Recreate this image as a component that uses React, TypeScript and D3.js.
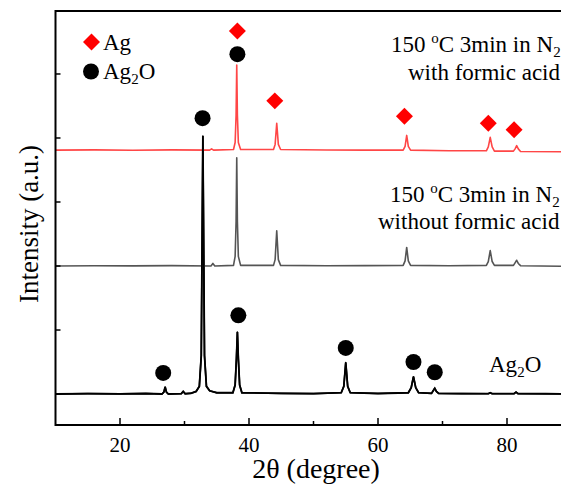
import React, { useEffect, useRef } from "react";
import * as d3 from "d3";

// 2-theta positions and intensities (a.u.), relative to each trace's baseline
const ag2oPattern: [number, number][] = [
  [10, 0], [15, 0.006], [20, 0.003], [24, 0.008], [26.5, 0], [26.8, 0.03], [27.0, 0.11], [27.2, 0.03], [27.5, 0],
  [29.5, 0.005], [29.8, 0.04], [30.1, 0.005], [31.0, 0.012], [31.8, 0.04], [32.3, 0.12], [32.6, 0.6], [32.85, 4.03],
  [33.1, 0.6], [33.4, 0.12], [33.9, 0.05], [35, 0.02], [37.5, 0.02], [37.85, 0.14], [38.05, 0.55], [38.2, 0.97],
  [38.35, 0.55], [38.55, 0.14], [38.9, 0.02], [45, 0.01], [50, 0.006], [54.3, 0.02], [54.7, 0.12], [55.0, 0.49],
  [55.3, 0.12], [55.7, 0.02], [60, 0.008], [64.7, 0.02], [65.15, 0.1], [65.5, 0.27], [65.85, 0.1], [66.3, 0.02],
  [68.3, 0.01], [68.55, 0.05], [68.8, 0.09], [69.05, 0.04], [69.4, 0.01], [73, 0.006], [77.1, 0.005], [77.4, 0.02],
  [77.7, 0.005], [81.1, 0.005], [81.4, 0.03], [81.7, 0.005], [86, 0.004], [90, 0],
];

const noAcidPattern: [number, number][] = [
  [10, 0], [16, 0.005], [22, 0.002], [28, 0.006], [34.1, 0], [34.4, 0.04], [34.7, 0], [37.6, 0.01], [37.85, 0.15],
  [38.0, 0.7], [38.1, 1.69], [38.2, 0.7], [38.35, 0.15], [38.7, 0.01], [43.8, 0.01], [44.05, 0.1], [44.3, 0.55],
  [44.55, 0.1], [44.9, 0.01], [52, 0.004], [58, 0.006], [63.9, 0.01], [64.2, 0.08], [64.45, 0.29], [64.7, 0.08],
  [65.05, 0.01], [71, 0.004], [76.8, 0.01], [77.1, 0.07], [77.4, 0.24], [77.7, 0.07], [78.05, 0.01], [81.0, 0.01],
  [81.25, 0.05], [81.5, 0.09], [81.75, 0.04], [82.1, 0.005], [90, -0.005],
];

const formicPattern: [number, number][] = [
  [10, 0], [16, 0.004], [22, -0.002], [28, 0.005], [33.9, 0], [34.2, 0.02], [34.5, 0], [37.6, 0.01], [37.85, 0.12],
  [38.0, 0.55], [38.1, 1.33], [38.2, 0.55], [38.35, 0.12], [38.7, 0.01], [43.8, 0.01], [44.05, 0.09], [44.3, 0.42],
  [44.55, 0.09], [44.9, 0.01], [52, 0.002], [58, 0.0], [63.9, 0.0], [64.2, 0.06], [64.45, 0.23], [64.7, 0.06],
  [65.05, 0.0], [71, -0.01], [76.8, -0.01], [77.1, 0.05], [77.4, 0.2], [77.7, 0.05], [78.05, -0.015], [81.0, -0.015],
  [81.25, 0.02], [81.5, 0.07], [81.75, 0.02], [82.1, -0.02], [90, -0.025],
];

const patterns = [ag2oPattern, noAcidPattern, formicPattern];
const offsets = [0, 2.0, 3.81];
const colors = ["#000000", "#555555", "#ff4646"];

// phase markers [2theta, level]
const ag2oMarks: [number, number][] = [
  [26.7, 0.33], [32.8, 4.31], [38.2, 5.31], [38.35, 1.23], [55.0, 0.72], [65.5, 0.5], [68.8, 0.34],
];
const agMarks: [number, number][] = [
  [38.2, 5.67], [44.0, 4.58], [64.1, 4.34], [77.1, 4.23], [81.1, 4.13],
];

const xMajor = [20, 40, 60, 80];
const xMinor = [30, 50, 70];
const yTicks = [0, 1, 2, 3, 4, 5];

export default function App() {
  const ref = useRef<SVGSVGElement>(null);

  useEffect(() => {
    const svg = d3.select(ref.current);
    svg.selectAll("*").remove();

    const left = 55.5, right = 571.5, top = 11, bottom = 425;
    const x = d3.scaleLinear().domain([10, 90]).range([left, right]);
    const y = d3.scaleLinear().domain([-0.484, 5.984]).range([bottom, top]);
    const font = "Liberation Serif, Times New Roman, Times, serif";

    // traces
    const line = d3.line<[number, number]>().x(d => x(d[0])).y(d => y(d[1]));
    patterns.forEach((p, i) => {
      svg.append("path")
        .attr("d", line(p.map(d => [d[0], d[1] + offsets[i]] as [number, number])))
        .attr("fill", "none")
        .attr("stroke", colors[i])
        .attr("stroke-width", 1.6)
        .attr("stroke-linejoin", "round");
    });
    // black trace on top of the others
    svg.append("path")
      .attr("d", line(ag2oPattern))
      .attr("fill", "none").attr("stroke", "#000").attr("stroke-width", 1.8);

    // frame
    svg.append("rect")
      .attr("x", left).attr("y", top).attr("width", right - left).attr("height", bottom - top)
      .attr("fill", "none").attr("stroke", "#000").attr("stroke-width", 2);

    // x ticks (inward)
    svg.selectAll(".xmaj").data(xMajor).join("line")
      .attr("x1", d => x(d)).attr("x2", d => x(d)).attr("y1", bottom).attr("y2", bottom - 7)
      .attr("stroke", "#000").attr("stroke-width", 1.5);
    svg.selectAll(".xmin").data(xMinor).join("line")
      .attr("x1", d => x(d)).attr("x2", d => x(d)).attr("y1", bottom).attr("y2", bottom - 4)
      .attr("stroke", "#000").attr("stroke-width", 1.5);
    svg.selectAll(".xlab").data(xMajor).join("text")
      .attr("x", d => x(d)).attr("y", 452).attr("text-anchor", "middle")
      .attr("font-family", font).attr("font-size", 21).text(d => d);

    // y ticks (inward)
    svg.selectAll(".ytick").data(yTicks).join("line")
      .attr("x1", left).attr("x2", left + 5).attr("y1", d => y(d)).attr("y2", d => y(d))
      .attr("stroke", "#000").attr("stroke-width", 1.5);

    // axis titles
    svg.append("text").attr("x", 316).attr("y", 478).attr("text-anchor", "middle")
      .attr("font-family", font).attr("font-size", 28).text("2θ (degree)");
    svg.append("text").attr("transform", "translate(38, 224) rotate(-90)").attr("text-anchor", "middle")
      .attr("font-family", font).attr("font-size", 27).text("Intensity (a.u.)");

    // markers
    const circle = d3.symbol().type(d3.symbolCircle).size(201);
    const square = d3.symbol().type(d3.symbolSquare).size(144);
    svg.selectAll(".ag2o").data(ag2oMarks).join("path")
      .attr("d", circle())
      .attr("transform", d => `translate(${x(d[0])}, ${y(d[1])})`)
      .attr("fill", "#000");
    svg.selectAll(".ag").data(agMarks).join("path")
      .attr("d", square())
      .attr("transform", d => `translate(${x(d[0])}, ${y(d[1])}) rotate(45)`)
      .attr("fill", "#ff0000");

    // legend
    svg.append("path").attr("d", square()).attr("transform", "translate(91.5, 42) rotate(45)").attr("fill", "#ff0000");
    svg.append("path").attr("d", circle()).attr("transform", "translate(91, 71.5)").attr("fill", "#000");

    const subText = (xp: number, yp: number, parts: [string, string][]) => {
      const t = svg.append("text").attr("x", xp).attr("y", yp)
        .attr("font-family", font).attr("font-size", 23);
      parts.forEach(([s, kind]) => {
        const ts = t.append("tspan").text(s);
        if (kind === "sub") ts.attr("dy", 5).attr("font-size", 15);
        if (kind === "sup") ts.attr("dy", -9).attr("font-size", 15);
        if (kind === "after-sub") ts.attr("dy", -5);
        if (kind === "after-sup") ts.attr("dy", 9);
      });
    };

    subText(103, 50, [["Ag", ""]]);
    subText(103, 79, [["Ag", ""], ["2", "sub"], ["O", "after-sub"]]);
    subText(489, 372, [["Ag", ""], ["2", "sub"], ["O", "after-sub"]]);

    subText(391, 52, [["150 ", ""], ["o", "sup"], ["C 3min in N", "after-sup"], ["2", "sub"]]);
    subText(408, 80, [["with formic acid", ""]]);
    subText(390, 202, [["150 ", ""], ["o", "sup"], ["C 3min in N", "after-sup"], ["2", "sub"]]);
    subText(378, 229, [["without formic acid", ""]]);
  }, []);

  return (
    <svg ref={ref} width={561} height={495}
      style={{ position: "absolute", left: 0, top: 0, background: "#fff", display: "block" }} />
  );
}
